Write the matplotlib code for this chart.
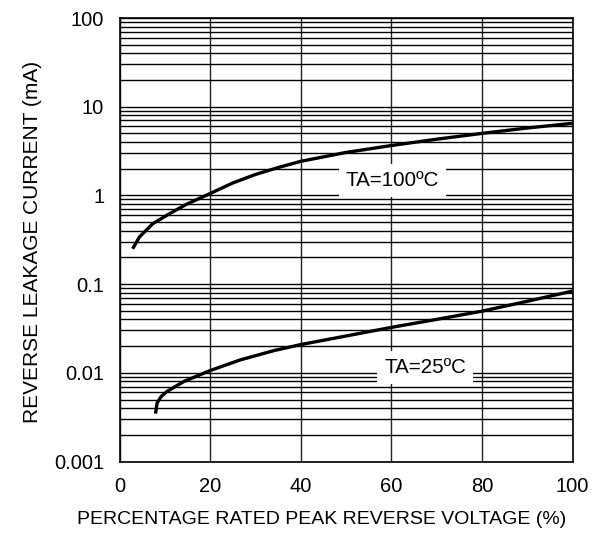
import numpy as np
import matplotlib
matplotlib.use("Agg")
import matplotlib.pyplot as plt
from matplotlib.ticker import LogLocator, NullFormatter

plt.rcParams['font.family'] = ['Liberation Sans', 'DejaVu Sans']

# 100 degC curve
x100 = [2.9, 4.4, 7.35, 11.0, 14.7, 20, 25, 30, 35, 40, 50, 60, 70, 80, 90, 100]
y100 = [0.25, 0.34, 0.48, 0.62, 0.79, 1.05, 1.38, 1.72, 2.06, 2.42, 3.05, 3.65, 4.3, 5.0, 5.75, 6.5]
# 25 degC curve
x25 = [7.95, 8.3, 9.2, 10.5, 14.2, 20, 26.7, 34.1, 40, 50, 60, 70, 80, 90, 100]
y25 = [0.00346, 0.00456, 0.0054, 0.00617, 0.00798, 0.0106, 0.014, 0.0178, 0.0208, 0.026, 0.0325, 0.040, 0.0495, 0.064, 0.0834]

xticks = [0, 20, 40, 60, 80, 100]
yticks = [0.001, 0.01, 0.1, 1, 10, 100]
ytick_labels = ['0.001', '0.01', '0.1', '1', '10', '100']

fig = plt.figure(figsize=(5.99, 5.33), dpi=100)
ax = fig.add_axes([119.5/599, 1 - 461.5/533, (572.5 - 119.5)/599, (461.5 - 18)/533])
ax.set_yscale('log')
ax.set_xlim(0, 100)
ax.set_ylim(0.001, 100)

ax.set_xticks(xticks)
ax.set_xticklabels([str(v) for v in xticks])
ax.set_yticks(yticks)
ax.set_yticklabels(ytick_labels)
ax.yaxis.set_minor_locator(LogLocator(base=10, subs=np.arange(2, 10)))
ax.yaxis.set_minor_formatter(NullFormatter())
ax.tick_params(which='both', length=0, labelsize=14.5, pad=11, colors='black')

ax.grid(True, which='major', axis='x', color='#222222', lw=1.0)
ax.grid(True, which='both', axis='y', color='black', lw=1.0)
ax.set_axisbelow(True)
for s in ax.spines.values():
    s.set_linewidth(1.2)
    s.set_color('black')

ax.plot(x100, y100, color='black', lw=2.4, solid_capstyle='butt', solid_joinstyle='round')
ax.plot(x25, y25, color='black', lw=2.4, solid_capstyle='butt', solid_joinstyle='round')

ax.text(60.3, 1.48, 'TA=100ºC', fontsize=14.8, ha='center', va='center',
        bbox=dict(facecolor='white', edgecolor='none', pad=5), zorder=5)
ax.text(67.5, 0.0114, 'TA=25ºC', fontsize=14.8, ha='center', va='center',
        bbox=dict(facecolor='white', edgecolor='none', pad=5), zorder=5)

ax.set_xlabel('PERCENTAGE RATED PEAK REVERSE VOLTAGE (%)', fontsize=14)
ax.xaxis.set_label_coords(0.446, -0.111)
ax.set_ylabel('REVERSE LEAKAGE CURRENT (mA)', fontsize=15)
ax.yaxis.set_label_coords(-0.171, 0.495)

fig.savefig('out.png', dpi=100)
